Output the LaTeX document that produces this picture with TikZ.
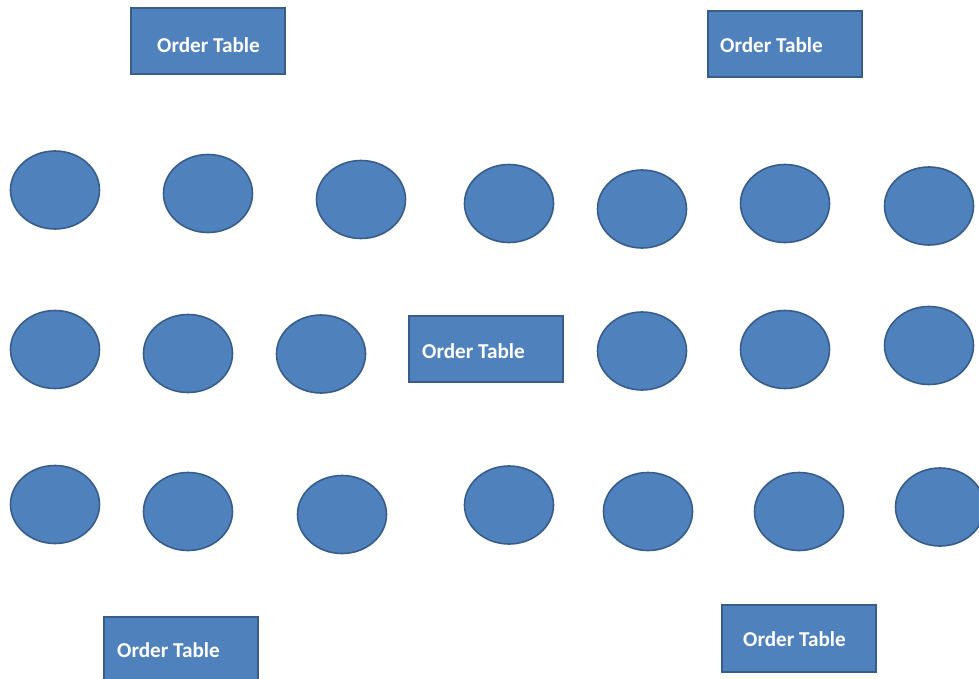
\documentclass[tikz,border=0pt]{standalone}
\usepackage{fontspec}
\usetikzlibrary{shapes.geometric}
\setmainfont{Carlito}
\definecolor{fillblue}{HTML}{4F81BD}
\definecolor{edgeblue}{HTML}{385D8A}
\begin{document}
\begin{tikzpicture}[x=1pt,y=-1pt,
  seat/.style={ellipse,draw=edgeblue,fill=fillblue,line width=1.6pt,minimum width=89pt,minimum height=78pt,inner sep=0pt},
  tablebox/.style={draw=edgeblue,fill=fillblue,line width=1.6pt},
  tabletext/.style={anchor=west,text=white,font=\bfseries\fontsize{21.2}{24}\selectfont,inner sep=0pt}]
\useasboundingbox (0,0) rectangle (979,679);
\clip (0,0) rectangle (979,679);
% tables
\draw[tablebox] (131,8) rectangle (285,74);
\node[tabletext] (t1) at (157,45) {Order Table};
\draw[tablebox] (708,11) rectangle (862,77);
\node[tabletext] (t2) at (720,45) {Order Table};
\draw[tablebox] (409,316) rectangle (563,382);
\node[tabletext] (t3) at (422,351) {Order Table};
\draw[tablebox] (104,617) rectangle (258,690);
\node[tabletext] (t4) at (117,650) {Order Table};
\draw[tablebox] (722,605) rectangle (876,672);
\node[tabletext] (t5) at (743,639) {Order Table};
% row 1
\node[seat] (a1) at (55,190) {};
\node[seat] (a2) at (208,193.5) {};
\node[seat] (a3) at (361,199.5) {};
\node[seat] (a4) at (509,203.5) {};
\node[seat] (a5) at (642,209) {};
\node[seat] (a6) at (785,203.5) {};
\node[seat] (a7) at (929,206) {};
% row 2
\node[seat] (b1) at (55,349.5) {};
\node[seat] (b2) at (188,353.5) {};
\node[seat] (b3) at (321,354) {};
\node[seat] (b5) at (642,351) {};
\node[seat] (b6) at (785,349.5) {};
\node[seat] (b7) at (929,345.5) {};
% row 3
\node[seat] (c1) at (55,504.5) {};
\node[seat] (c2) at (188,511.5) {};
\node[seat] (c3) at (342,514.5) {};
\node[seat] (c4) at (509,505) {};
\node[seat] (c5) at (648,511.5) {};
\node[seat] (c6) at (799,511.5) {};
\node[seat] (c7) at (940,507) {};
\end{tikzpicture}
\end{document}
